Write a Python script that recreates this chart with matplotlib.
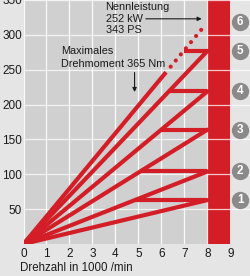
import matplotlib
matplotlib.use("Agg")
import matplotlib.pyplot as plt
import numpy as np

plt.rcParams['font.family'] = ['Liberation Sans', 'DejaVu Sans']

# Data
gears = ["1", "2", "3", "4", "5", "6"]
gear_speed_at_8000 = [63, 104, 164, 219, 277, 318]   # km/h at 8000 rpm
shift_rpm = 8.0                                        # shift point (1000 /min)
gear6_solid_end = 6.2                                  # gear 6 solid up to this rpm
gear6_top_rpm = 7.85                                   # gear 6 dotted up to top speed
x_ticks = [0, 1, 2, 3, 4, 5, 6, 7, 8, 9]
y_ticks = [50, 100, 150, 200, 250, 300, 350]
xlabel = "Drehzahl in 1000 /min"
label_power = ["Nennleistung", "252 kW", "343 PS"]
label_torque = ["Maximales", "Drehmoment 365 Nm"]

RED = "#d41e27"
GRAY_BG = "#d0d0d0"
LIGHT_BG = "#e5e5e5"
CIRCLE = "#8a8a8a"
TXT = "#1a1a1a"

fig = plt.figure(figsize=(2.50, 2.76), dpi=100, facecolor=LIGHT_BG)
ax = fig.add_axes([0.094, 0.116, 0.906, 0.884])
ax.set_facecolor(LIGHT_BG)
ax.set_xlim(0, 9.85)
ax.set_ylim(0, 347)

ax.axvspan(0, shift_rpm, color=GRAY_BG, zorder=0, lw=0)
ax.axvspan(shift_rpm, 9, color=RED, zorder=0.5, lw=0)

for x in x_ticks[:-1]:
    ax.axvline(x, color="white", lw=0.9, zorder=1, alpha=0.9)
for y in y_ticks:
    ax.axhline(y, color="white", lw=0.9, zorder=1, alpha=0.75)

lw = 3.0
n = len(gear_speed_at_8000)
for i, v in enumerate(gear_speed_at_8000):
    if i < n - 1:
        ax.plot([0, shift_rpm], [0, v], color=RED, lw=lw, solid_capstyle='round', zorder=3)
        v_next = gear_speed_at_8000[i + 1]
        ax.plot([shift_rpm * v / v_next, shift_rpm], [v, v], color=RED, lw=lw,
                solid_capstyle='butt', zorder=3)
    else:
        slope = v / shift_rpm
        ax.plot([0, gear6_solid_end], [0, slope * gear6_solid_end], color=RED, lw=lw,
                solid_capstyle='butt', zorder=3)
        ax.plot([gear6_solid_end + 0.2, gear6_top_rpm],
                [slope * (gear6_solid_end + 0.2), slope * gear6_top_rpm], color=RED, lw=lw,
                linestyle=(0, (0.01, 1.9)), dash_capstyle='round', zorder=3)

# Gear circles
for g, v in zip(gears, gear_speed_at_8000):
    ax.plot([9.42], [v], marker='o', ms=12.5, color=CIRCLE, mec='none', zorder=4,
            clip_on=False)
    ax.text(9.42, v, g, color="white", fontsize=8.5, fontweight='bold', ha='center',
            va='center', zorder=5)

# Annotations
for t, y in zip(label_power, [340, 323, 307]):
    ax.text(3.57, y, t, fontsize=7.8, ha='left', va='center', color=TXT, zorder=5)
ax.annotate("", xy=(7.87, 323), xytext=(5.2, 323),
            arrowprops=dict(arrowstyle='-|>', color=TXT, lw=0.8,
                            mutation_scale=6), zorder=5)
for t, y in zip(label_torque, [277, 258]):
    ax.text(1.65, y, t, fontsize=7.8, ha='left', va='center', color=TXT, zorder=5)
ax.annotate("", xy=(4.83, 214), xytext=(4.83, 250),
            arrowprops=dict(arrowstyle='-|>', color=TXT, lw=0.8,
                            mutation_scale=6), zorder=5)

ax.set_xticks(x_ticks)
ax.set_yticks(y_ticks)
ax.tick_params(length=0, labelsize=8.5, colors=TXT, pad=3)
ax.tick_params(axis='y', pad=1)
for s in ax.spines.values():
    s.set_visible(False)

fig.text(0.08, 0.006, xlabel, fontsize=8.3, ha='left', va='bottom', color=TXT)

fig.savefig("out.png", dpi=100, facecolor=LIGHT_BG)
